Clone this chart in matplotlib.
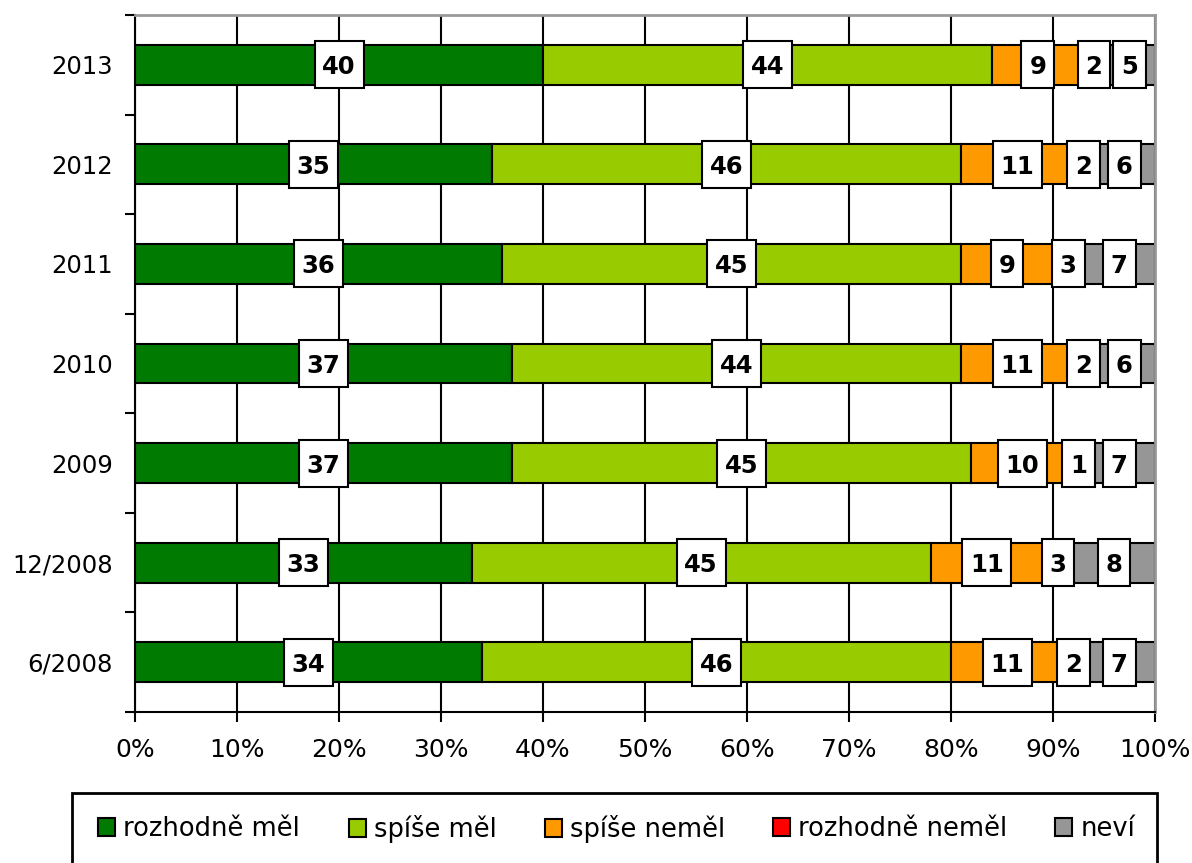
import numpy as np
import matplotlib.pyplot as plt
from matplotlib.patches import Rectangle
from matplotlib.ticker import FixedLocator

plt.rcParams['font.family'] = ['DejaVu Sans']

# data (bottom to top)
categories = ['6/2008', '12/2008', '2009', '2010', '2011', '2012', '2013']
rozhodne_mel = [34, 33, 37, 37, 36, 35, 40]
spise_mel = [46, 45, 45, 44, 45, 46, 44]
spise_nemel = [11, 11, 10, 11, 9, 11, 9]
rozhodne_nemel = [2, 3, 1, 2, 3, 2, 2]
nevi = [7, 8, 7, 6, 7, 6, 5]

series_names = ['rozhodně měl', 'spíše měl', 'spíše neměl', 'rozhodně neměl', 'neví']
series_colors = ['#007A00', '#99CC00', '#FF9900', '#FF0000', '#969696']
series_values = [rozhodne_mel, spise_mel, spise_nemel, rozhodne_nemel, nevi]

W, H = 1192, 863
fig = plt.figure(figsize=(W / 100, H / 100), dpi=100)
ax_px = (135, 151, 1020, 697)
ax = fig.add_axes([ax_px[0] / W, ax_px[1] / H, ax_px[2] / W, ax_px[3] / H])

ax.set_xlim(0, 100)
ax.set_ylim(-0.5, len(categories) - 0.5)
px_x = 100 / ax_px[2]               # data units per pixel
px_y = len(categories) / ax_px[3]

y = np.arange(len(categories))
left = np.zeros(len(categories))
handles = []
for name, col, vals in zip(series_names, series_colors, series_values):
    vals = np.array(vals, dtype=float)
    h = ax.barh(y, vals, left=left, height=0.4, color=col, edgecolor='black',
                linewidth=1.5, label=name, zorder=2)
    handles.append(h)
    for yi, l, v in zip(y, left, vals):
        txt = f'{int(v)}'
        bw = (16 + 16.5 * len(txt)) * px_x
        bh = 47 * px_y
        cx = l + v / 2
        ax.add_patch(Rectangle((cx - bw / 2, yi - bh / 2), bw, bh, fc='white',
                               ec='black', lw=1.5, zorder=3))
        ax.text(cx, yi, txt, ha='center', va='center_baseline',
                fontsize=17.5, fontweight='bold', zorder=4)
    left += vals

ax.set_xticks(np.arange(0, 101, 10))
ax.set_xticklabels([f'{t}%' for t in range(0, 101, 10)], fontsize=18)
ax.set_yticks(y)
ax.set_yticklabels(categories, fontsize=17.5)
ax.tick_params(axis='y', which='major', length=0, pad=16)
ax.yaxis.set_minor_locator(FixedLocator(np.arange(-0.5, len(categories), 1)))
ax.tick_params(axis='y', which='minor', length=7, width=1.5, direction='out')
ax.tick_params(axis='x', length=7, width=1.5, direction='out', pad=12)

ax.grid(axis='x', color='black', linewidth=1.5, zorder=0)
ax.set_axisbelow(True)
for s in ['left', 'bottom']:
    ax.spines[s].set_linewidth(1.5)
    ax.spines[s].set_color('black')
for s in ['top', 'right']:
    ax.spines[s].set_linewidth(2)
    ax.spines[s].set_color('#999999')

# legend frame
fig.patches.append(Rectangle((72 / W, -0.01), (1157 - 72) / W, (H - 793) / H + 0.01,
                             transform=fig.transFigure, fill=False, ec='black', lw=2))
# legend entries, spaced like the original
legend_x = [98, 349, 545, 773, 1055]
for hnd, name, lx in zip(handles, series_names, legend_x):
    fig.legend(handles=[hnd], labels=[name], loc='center left',
               bbox_to_anchor=(lx / W, 1 - 829 / H), frameon=False,
               fontsize=18.5, handlelength=0.68, handleheight=0.68,
               handletextpad=0.3, borderpad=0, borderaxespad=0)

fig.savefig('out.png', dpi=100)
